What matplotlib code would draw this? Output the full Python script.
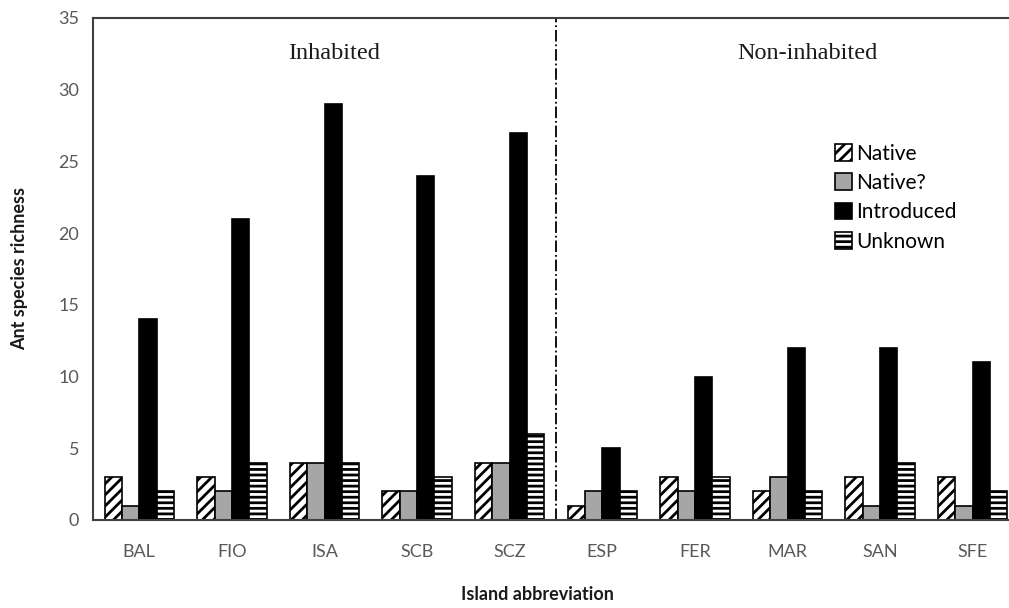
import numpy as np
import matplotlib
matplotlib.use("Agg")
import matplotlib.pyplot as plt

# island abbreviations and richness per status
islands = ["BAL", "FIO", "ISA", "SCB", "SCZ", "ESP", "FER", "MAR", "SAN", "SFE"]
native = [3, 3, 4, 2, 4, 1, 3, 2, 3, 3]
native_q = [1, 2, 4, 2, 4, 2, 2, 3, 1, 1]
introduced = [14, 21, 29, 24, 27, 5, 10, 12, 12, 11]
unknown = [2, 4, 4, 3, 6, 2, 3, 2, 4, 2]
series_names = ["Native", "Native?", "Introduced", "Unknown"]

plt.rcParams['font.family'] = ['Lato', 'DejaVu Sans']
plt.rcParams['hatch.linewidth'] = 2.0

fig = plt.figure(figsize=(10.09, 6.08), dpi=100)
# axes left edge at 93px, top at 18px, bottom at 520px; right runs off the figure
ax = fig.add_axes([93 / 1009, 1 - 520 / 608, 926 / 1009, 502 / 608])

x = np.arange(len(islands))
w = 0.187
offsets = [-1.5 * w, -0.5 * w, 0.5 * w, 1.5 * w]
styles = [
    dict(color="white", hatch="///"),
    dict(color="#a6a6a6", hatch=None),
    dict(color="black", hatch=None),
    dict(color="white", hatch="---"),
]
for vals, off, st, name in zip([native, native_q, introduced, unknown], offsets, styles, series_names):
    ax.bar(x + off, vals, w, color=st["color"], hatch=st["hatch"],
           edgecolor="black", linewidth=1.2, label=name)

ax.set_xlim(-0.5, 9.5)
ax.set_ylim(0, 35)
ax.set_yticks(range(0, 36, 5))
ax.set_xticks(x)
ax.set_xticklabels(islands)
ax.tick_params(length=0, labelsize=13, colors="#595959", pad=10)
ax.tick_params(axis="x", pad=17)
for s in ["left", "top", "bottom"]:
    ax.spines[s].set_color("#404040")
    ax.spines[s].set_linewidth(1.5)
ax.spines["right"].set_visible(False)

# divider between inhabited and non-inhabited islands
ax.axvline(4.5, color="black", linestyle="-.", linewidth=1.3)
ax.text(2.1, 32.5, "Inhabited", ha="center", va="center",
        family="Liberation Serif", fontsize=17.5, color="#1a1a1a")
ax.text(7.22, 32.5, "Non-inhabited", ha="center", va="center",
        family="Liberation Serif", fontsize=17.5, color="#1a1a1a")

leg = ax.legend(loc="upper left", bbox_to_anchor=(0.801, 0.75), frameon=False,
                fontsize=15, handlelength=0.85, handleheight=0.85,
                handletextpad=0.2, labelspacing=0.45, borderaxespad=0, borderpad=0)

fig.text(20 / 1009, 1 - 268 / 608, "Ant species richness", rotation=90,
         ha="center", va="center", fontsize=13, fontweight="bold", color="#1a1a1a")
fig.text(537 / 1009, 1 - 595 / 608, "Island abbreviation",
         ha="center", va="center", fontsize=13, fontweight="bold", color="#1a1a1a")

fig.savefig("out.png", dpi=100)
